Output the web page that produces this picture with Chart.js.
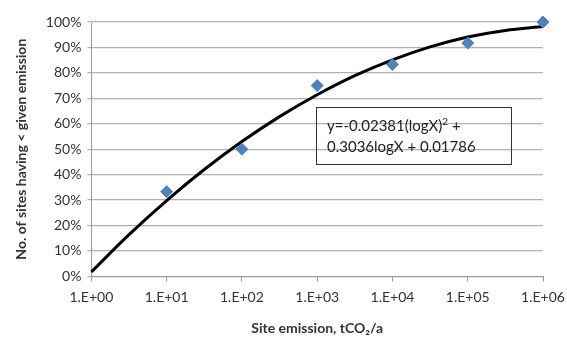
<!DOCTYPE html>
<html>
<head>
<meta charset="utf-8">
<script src="https://cdn.jsdelivr.net/npm/chart.js@4"></script>
<style>
  html, body { margin: 0; padding: 0; background: #fff; }
  #wrap { position: relative; width: 567px; height: 343px; }
  #eq {
    position: absolute; left: 316px; top: 107px; width: 196px; height: 58px;
    box-sizing: border-box; border: 1.5px solid #333; background: transparent;
    font-family: Lato, sans-serif; font-size: 15px; line-height: 21px;
    color: #222; padding: 7px 0 0 10px;
  }
  #eq sup { font-size: 10px; line-height: 0; }
</style>
</head>
<body>
<div id="wrap">
  <canvas id="c" width="567" height="343"></canvas>
  <div id="eq">y=-0.02381(logX)<sup>2</sup> +<br>0.3036logX + 0.01786</div>
</div>
<script>
// observed points: site emission (tCO2/a) vs share of sites below it
const emissions = [1e1, 1e2, 1e3, 1e4, 1e5, 1e6];
const shares    = [33.3, 50, 75, 83.3, 91.7, 100];

// fitted trend line at half-decade steps
const trendX = [1, 3.162, 10, 31.62, 100, 316.2, 1000, 3162, 1e4, 31623, 1e5, 316228, 1e6];
const trendY = [1.8, 16.4, 29.8, 42.0, 53.0, 62.8, 71.4, 78.9, 85.1, 90.2, 94.1, 96.7, 98.2];

const yTicks = [0, 10, 20, 30, 40, 50, 60, 70, 80, 90, 100];

const FONT = 'Lato, sans-serif';
const TEXT = '#333';

new Chart(document.getElementById('c'), {
  type: 'scatter',
  data: {
    datasets: [
      {
        label: 'Trend',
        type: 'line',
        data: trendX.map((x, i) => ({ x, y: trendY[i] })),
        borderColor: '#000',
        borderWidth: 3,
        pointRadius: 0,
        cubicInterpolationMode: 'monotone',
        fill: false,
        clip: false,
        order: 2
      },
      {
        label: 'Sites',
        data: emissions.map((x, i) => ({ x, y: shares[i] })),
        pointStyle: 'rectRot',
        pointRadius: 6,
        backgroundColor: '#4F81BD',
        borderColor: '#4F81BD',
        clip: false,
        order: 1
      }
    ]
  },
  options: {
    responsive: false,
    animation: false,
    layout: { padding: { left: 13, right: 24, top: 22, bottom: 6 } },
    plugins: { legend: { display: false }, tooltip: { enabled: false } },
    scales: {
      x: {
        type: 'logarithmic',
        min: 1, max: 1e6,
        afterBuildTicks: axis => {
          axis.ticks = [0, 1, 2, 3, 4, 5, 6].map(e => ({ value: Math.pow(10, e) }));
        },
        // last tick label may hang into the right padding
        afterFit: axis => { axis.paddingRight = 0; },
        grid: { drawOnChartArea: false, drawTicks: true, tickLength: 5, color: '#999' },
        border: { color: '#999', width: 1 },
        ticks: {
          color: TEXT, font: { family: FONT, size: 14 }, padding: 8,
          maxRotation: 0,
          callback: v => '1.E+' + String(Math.round(Math.log10(v))).padStart(2, '0')
        },
        title: {
          display: true,
          text: 'Site emission, tCO\u2082/a',
          color: TEXT, font: { family: FONT, size: 14, weight: 'bold' },
          padding: { top: 6, bottom: 0 }
        }
      },
      y: {
        min: 0, max: 100,
        afterBuildTicks: axis => { axis.ticks = yTicks.map(v => ({ value: v })); },
        grid: { color: '#b9aea6', lineWidth: 1.2, drawTicks: true, tickLength: 4 },
        border: { color: '#999', width: 1 },
        ticks: {
          color: TEXT, font: { family: FONT, size: 14 }, padding: 6,
          callback: v => v + '%'
        },
        title: {
          display: true,
          text: 'No. of sites having < given emission',
          color: TEXT, font: { family: FONT, size: 14, weight: 'bold' },
          padding: { top: 0, bottom: 10 }
        }
      }
    }
  }
});
</script>
</body>
</html>
